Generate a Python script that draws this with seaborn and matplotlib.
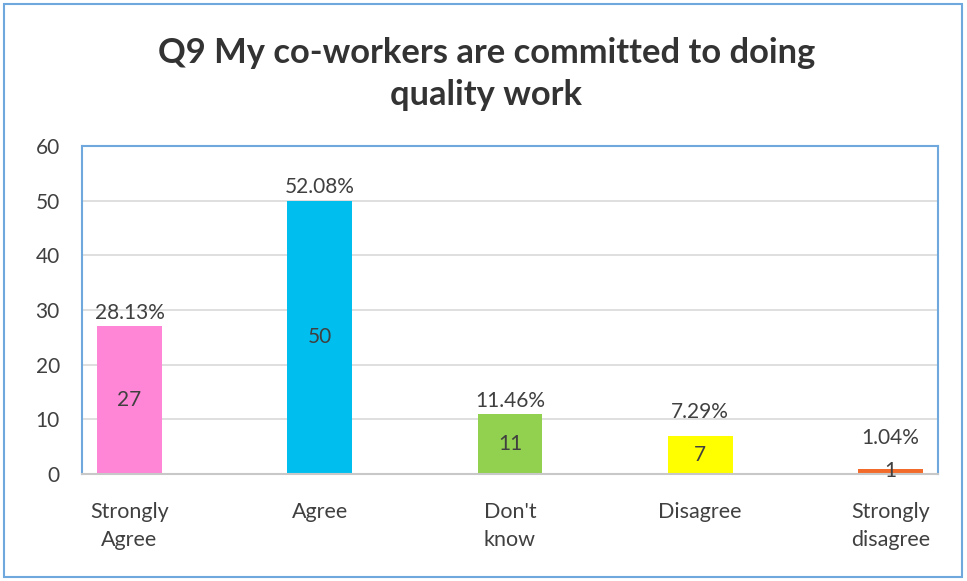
import matplotlib
matplotlib.use("Agg")
import matplotlib.pyplot as plt
import seaborn as sns
import pandas as pd
from matplotlib.patches import Rectangle

categories = ["Strongly\nAgree", "Agree", "Don't\nknow", "Disagree", "Strongly\ndisagree"]
counts = [27, 50, 11, 7, 1]
percent_labels = ["28.13%", "52.08%", "11.46%", "7.29%", "1.04%"]
colors = ["#FF85D6", "#00BFEF", "#92D050", "#FFFF00", "#F26B2B"]
y_ticks = [0, 10, 20, 30, 40, 50, 60]
title = "Q9 My co-workers are committed to doing\nquality work"

# vertical gap (points) between each bar top and its percentage label
pct_offsets = [2.4, 2.4, 2.4, 9.6, 14.6]

sns.set_theme(style="white")
plt.rcParams["font.family"] = ["Lato", "DejaVu Sans"]

text_color = "#404040"
border_blue = "#6FA8DC"
label_size = 15

df = pd.DataFrame({"category": categories, "count": counts})

fig = plt.figure(figsize=(9.67, 5.81), dpi=100)
ax = fig.add_axes([82 / 967, 1 - 474 / 581, (938 - 82) / 967, (474 - 146) / 581])

sns.barplot(data=df, x="category", y="count", hue="category",
            palette=colors, legend=False, width=0.34, ax=ax,
            saturation=1, edgecolor="none")

ax.set_xlim(-0.25, 4.25)
ax.set_ylim(0, 60)
ax.set_yticks(y_ticks)
ax.set_xlabel("")
ax.set_ylabel("")
ax.yaxis.grid(True, color="#D9D9D9", linewidth=1.2)
ax.set_axisbelow(True)
ax.tick_params(axis="both", length=0, labelsize=label_size, colors=text_color)
ax.tick_params(axis="y", pad=16)
ax.tick_params(axis="x", pad=20)
for lbl in ax.get_xticklabels():
    lbl.set_linespacing(1.5)
    lbl.set_fontsize(15.5)

for side in ["left", "top", "right"]:
    ax.spines[side].set_color(border_blue)
    ax.spines[side].set_linewidth(1.5)
ax.spines["bottom"].set_color("#C8C8C8")
ax.spines["bottom"].set_linewidth(1.5)

for i, (c, p, off) in enumerate(zip(counts, percent_labels, pct_offsets)):
    ax.annotate(p, xy=(i, c), xytext=(0, off), textcoords="offset points",
                ha="center", va="bottom", fontsize=label_size, color=text_color)
    ax.text(i, c / 2, str(c), ha="center", va="center", fontsize=label_size, color=text_color)

fig.text(0.503, 1 - 74 / 581, title, ha="center", va="center", fontsize=24.8,
         fontweight="bold", color="#333333", linespacing=1.4)

# outer chart frame
fig.patches.append(Rectangle((4 / 967, 4 / 581), 958 / 967, 573 / 581,
                             transform=fig.transFigure, fill=False,
                             edgecolor=border_blue, linewidth=1.5))

fig.savefig("out.png", dpi=100)
